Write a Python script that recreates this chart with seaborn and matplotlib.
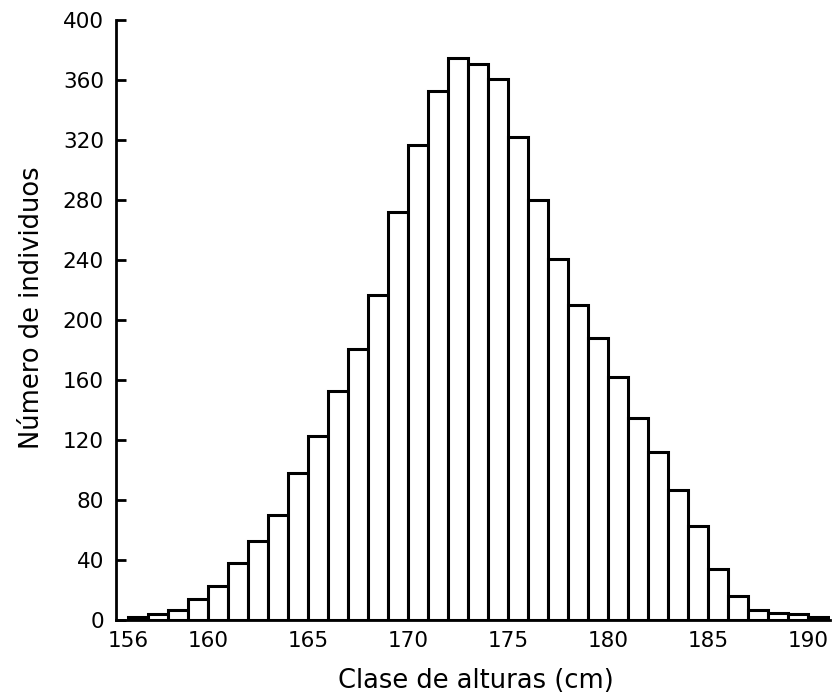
import numpy as np
import matplotlib
matplotlib.use("Agg")
import matplotlib.pyplot as plt
import seaborn as sns

# height classes (cm), left edge of each 1 cm class
class_start = list(range(156, 191))
# number of individuals in each class
counts = [2, 4, 7, 14, 23, 38, 53, 70, 98, 123, 153, 181, 217, 272, 317,
          353, 375, 371, 361, 322, 280, 241, 210, 188, 162, 135, 112, 87,
          63, 34, 16, 7, 5, 4, 2]
x_ticks = [156, 160, 165, 170, 175, 180, 185, 190]
y_ticks = list(range(0, 401, 40))

sns.set_style("ticks", {"text.color": "black", "axes.labelcolor": "black",
                        "xtick.color": "black", "ytick.color": "black",
                        "axes.edgecolor": "black"})
plt.rcParams['font.family'] = ['DejaVu Sans']

edges = class_start + [class_start[-1] + 1]
centers = [c + 0.5 for c in class_start]

fig = plt.figure(figsize=(8.37, 6.94), dpi=100)
ax = fig.add_axes([0.139, 0.1066, 0.853, 0.8644])

sns.histplot(x=centers, weights=counts, bins=edges, ax=ax,
             color="white", edgecolor="black", linewidth=2.2, alpha=1)

ax.set_xlim(155.4, 191.1)
ax.set_ylim(0, 400)
ax.set_xticks(x_ticks)
ax.set_yticks(y_ticks)
ax.tick_params(axis="y", direction="in", length=7, width=2, labelsize=15.5, pad=9)
ax.tick_params(axis="x", length=0, labelsize=15.5, pad=8)
for s in ["top", "right"]:
    ax.spines[s].set_visible(False)
for s in ["left", "bottom"]:
    ax.spines[s].set_linewidth(2)

ax.set_xlabel("Clase de alturas (cm)", fontsize=18.5)
ax.set_ylabel("Número de individuos", fontsize=18.5)
ax.xaxis.set_label_coords(0.503, -0.08)
ax.yaxis.set_label_coords(-0.1, 0.52)

fig.savefig("out.png", dpi=100)
